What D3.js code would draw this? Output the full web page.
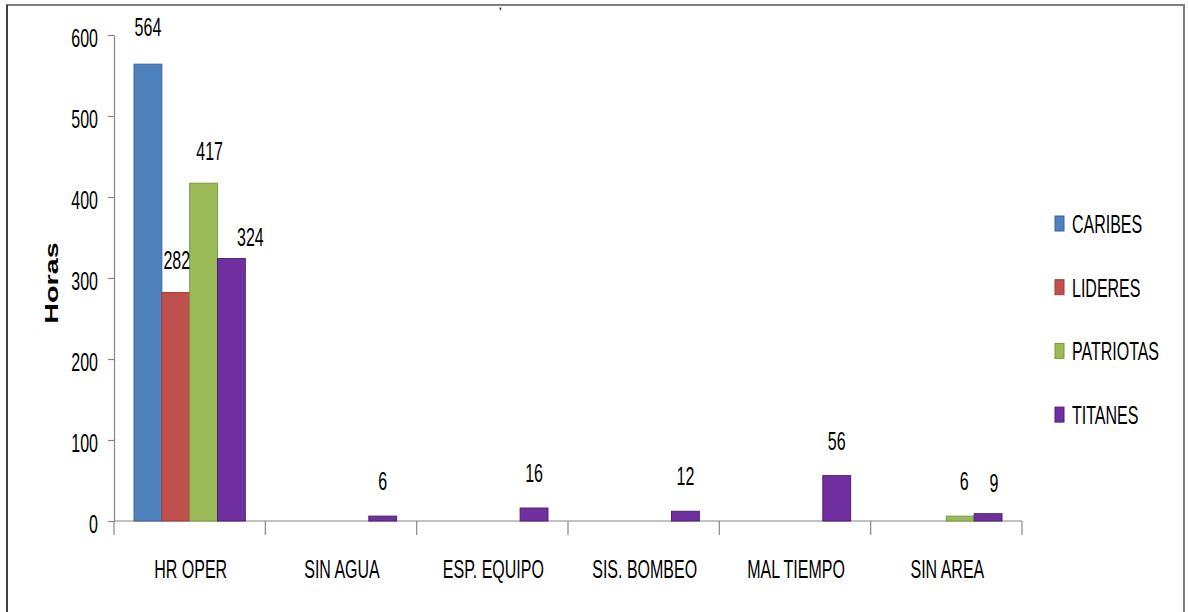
<!DOCTYPE html>
<html>
<head>
<meta charset="utf-8">
<script src="https://cdn.jsdelivr.net/npm/d3@7"></script>
<style>
  body { margin: 0; background: #fff; }
  text { font-family: "Liberation Sans", Arial, sans-serif; fill: #000; }
</style>
</head>
<body>
<div id="chart-area"></div>
<script>
var categories = ["HR OPER", "SIN AGUA", "ESP. EQUIPO", "SIS. BOMBEO", "MAL TIEMPO", "SIN AREA"];
var seriesNames = ["CARIBES", "LIDERES", "PATRIOTAS", "TITANES"];
var caribes = [564, 0, 0, 0, 0, 0];
var lideres = [282, 0, 0, 0, 0, 0];
var patriotas = [417, 0, 0, 0, 0, 6];
var titanes = [324, 6, 16, 12, 56, 9];
var yTicks = [0, 100, 200, 300, 400, 500, 600];
var colors = ["#4F81BD", "#C0504D", "#9BBB59", "#7030A0"];
var strokes = ["#3A6699", "#9E3B38", "#7D9A43", "#4E1F73"];

var seriesValues = [caribes, lideres, patriotas, titanes];

var W = 1188, H = 612;
var SX = 0.64;          // the original text is drawn narrow
var FS = "25px";
var margin = { left: 114, top: 35, right: 1188 - 1022, bottom: 612 - 521 };
var width = W - margin.left - margin.right,
    height = H - margin.top - margin.bottom;

var svg = d3.select("#chart-area")
    .append("svg")
    .attr("width", W)
    .attr("height", H);

// outer frame
svg.append("rect")
    .attr("x", 7).attr("y", 5)
    .attr("width", 1177).attr("height", 620)
    .attr("fill", "none")
    .attr("stroke", "#7f7f7f")
    .attr("stroke-width", 2);
svg.append("line")
    .attr("x1", 7).attr("x2", 7).attr("y1", 5).attr("y2", H)
    .attr("stroke", "#404040").attr("stroke-width", 2);

// cut-off title remnant
svg.append("text")
    .attr("x", 499).attr("y", 9)
    .attr("font-size", "9px")
    .attr("font-weight", "bold")
    .text(",");

function narrowText(sel, fx, fy) {
    sel.attr("transform", function(d, i) {
            return "translate(" + fx(d, i) + "," + fy(d, i) + ") scale(" + SX + ",1)";
        })
        .attr("font-size", FS);
}

var g = svg.append("g")
    .attr("transform", "translate(" + margin.left + "," + margin.top + ")");

var x0 = d3.scaleBand().domain(categories).range([0, width]).paddingInner(0).paddingOuter(0);
var x1 = d3.scaleBand().domain(seriesNames).range([0, x0.bandwidth()]).paddingInner(0).paddingOuter(0.72);
var y = d3.scaleLinear().domain([0, 600]).range([height, 0]);

// Y axis
var yAxis = g.append("g")
    .attr("class", "y axis")
    .call(d3.axisLeft(y).tickValues(yTicks).tickSize(6).tickSizeOuter(0));
yAxis.select(".domain").attr("stroke", "#868686").attr("stroke-width", 1.2);
yAxis.selectAll(".tick line").attr("stroke", "#868686").attr("stroke-width", 1.2);
yAxis.selectAll(".tick text")
    .attr("font-family", "Liberation Sans, Arial, sans-serif")
    .attr("font-size", FS)
    .attr("fill", "#000")
    .attr("dy", null)
    .attr("x", -16 / SX)
    .attr("y", 11)
    .attr("transform", "scale(" + SX + ",1)");

// X axis with ticks at category boundaries
var xAxisG = g.append("g")
    .attr("class", "x axis")
    .attr("transform", "translate(0," + height + ")");
xAxisG.append("line")
    .attr("x1", 0).attr("x2", width)
    .attr("stroke", "#868686").attr("stroke-width", 1.2);
var bounds = d3.range(categories.length + 1).map(function(i) {
    return i < categories.length ? x0(categories[i]) : x0.range()[1];
});
xAxisG.selectAll(".bound")
    .data(bounds)
    .enter().append("line")
    .attr("class", "bound")
    .attr("x1", function(d) { return d; })
    .attr("x2", function(d) { return d; })
    .attr("y1", 0).attr("y2", 14)
    .attr("stroke", "#868686").attr("stroke-width", 1.2);
xAxisG.selectAll(".cat")
    .data(categories)
    .enter().append("text")
    .attr("class", "cat")
    .attr("text-anchor", "middle")
    .text(function(d) { return d; })
    .call(narrowText, function(d) { return x0(d) + x0.bandwidth() / 2 + 1; }, function() { return 57; });

// Y label
svg.append("text")
    .attr("transform", "translate(58,283) rotate(-90) scale(1.6,1)")
    .attr("text-anchor", "middle")
    .attr("font-weight", "bold")
    .attr("font-size", "18px")
    .text("Horas");

// Bars
var barData = [];
categories.forEach(function(c, ci) {
    seriesNames.forEach(function(s, si) {
        barData.push({ cat: c, series: s, si: si, value: seriesValues[si][ci] });
    });
});
var shown = barData.filter(function(d) { return d.value > 0; });

g.selectAll("rect.bar")
    .data(shown)
    .enter().append("rect")
    .attr("class", "bar")
    .attr("x", function(d) { return x0(d.cat) + x1(d.series); })
    .attr("width", x1.bandwidth())
    .attr("y", function(d) { return y(d.value); })
    .attr("height", function(d) { return height - y(d.value); })
    .attr("fill", function(d) { return colors[d.si]; })
    .attr("stroke", function(d) { return strokes[d.si]; })
    .attr("stroke-width", 1);

// value label nudges (labels moved to avoid overlaps, as in the original)
var labelNudge = {
    "HR OPER|CARIBES": [0, -2],
    "HR OPER|LIDERES": [1, 2],
    "HR OPER|PATRIOTAS": [6, 3],
    "HR OPER|TITANES": [19, 13],
    "SIN AREA|PATRIOTAS": [4, 0],
    "SIN AREA|TITANES": [6, 4]
};
function nudge(d) { return labelNudge[d.cat + "|" + d.series] || [0, 0]; }

g.selectAll("text.val")
    .data(shown)
    .enter().append("text")
    .attr("class", "val")
    .attr("text-anchor", "middle")
    .text(function(d) { return d.value; })
    .call(narrowText,
        function(d) { return x0(d.cat) + x1(d.series) + x1.bandwidth() / 2 + nudge(d)[0]; },
        function(d) { return y(d.value) - 26 + nudge(d)[1]; });

// Legend
var legend = svg.append("g")
    .attr("transform", "translate(1055,216)");
var li = legend.selectAll(".li")
    .data(seriesNames)
    .enter().append("g")
    .attr("transform", function(d, i) { return "translate(0," + (i * 63.7) + ")"; });
li.append("rect")
    .attr("width", 9).attr("height", 15)
    .attr("fill", function(d, i) { return colors[i]; })
    .attr("stroke", function(d, i) { return strokes[i]; })
    .attr("stroke-width", 1);
li.append("text")
    .text(function(d) { return d; })
    .call(narrowText, function() { return 17; }, function() { return 17; });
</script>
</body>
</html>
